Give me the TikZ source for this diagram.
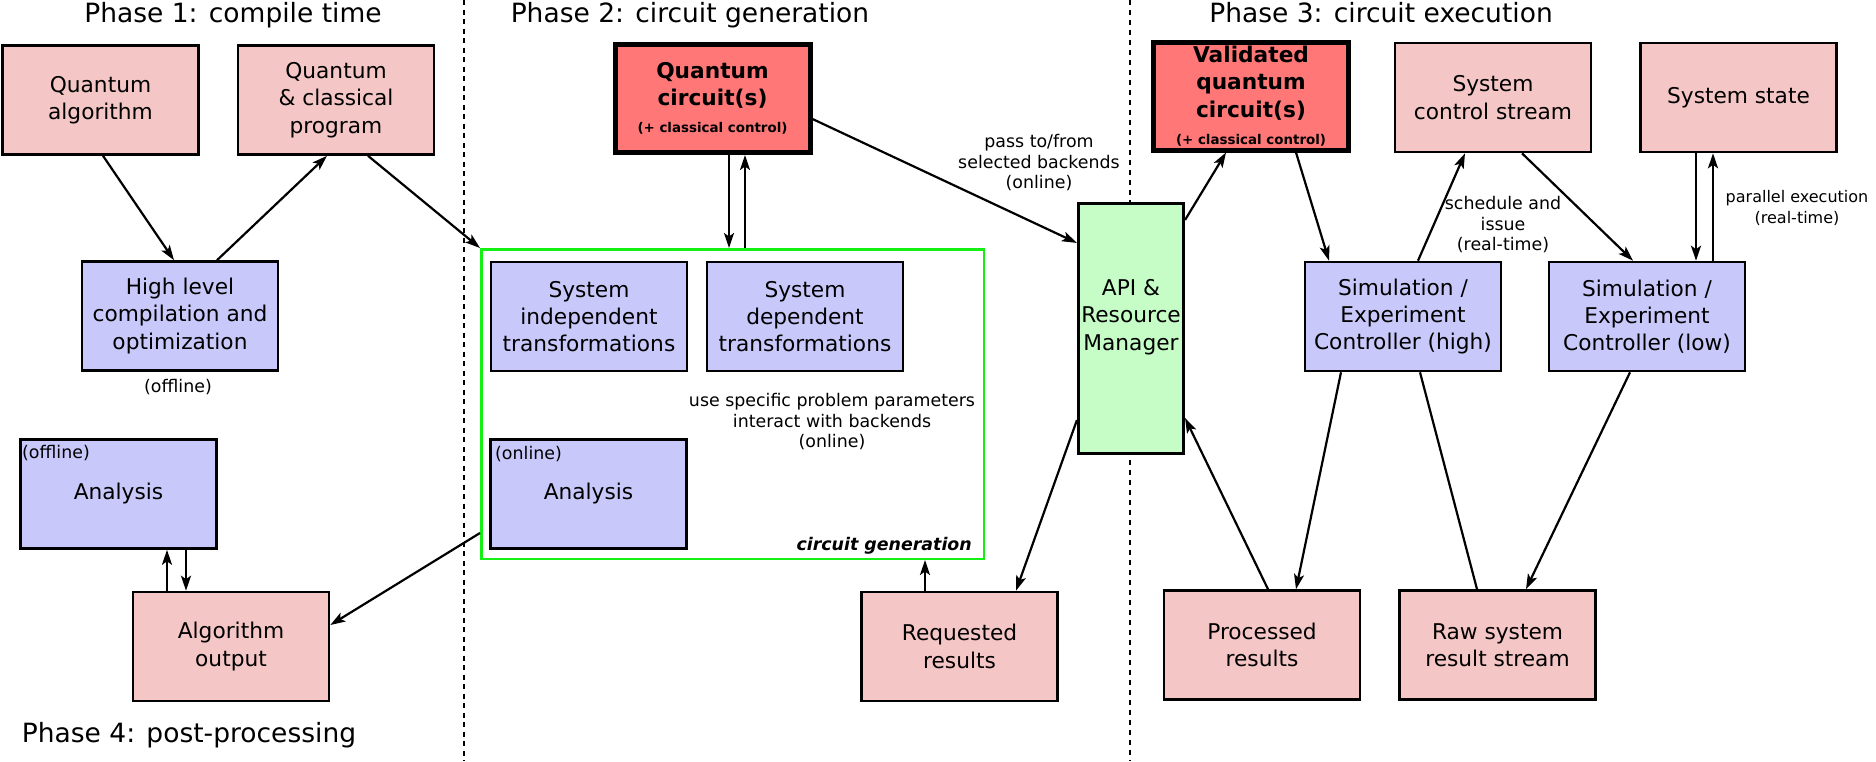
\documentclass[tikz,border=0pt]{standalone}
\usepackage{fontspec}
\setmainfont{DejaVu Sans}
\usetikzlibrary{arrows.meta}

\definecolor{pinkfill}{RGB}{245,198,198}
\definecolor{redfill}{RGB}{255,119,119}
\definecolor{bluefill}{RGB}{200,200,251}
\definecolor{greenfill}{RGB}{198,252,198}
\definecolor{frameg}{RGB}{20,240,20}

\newcommand\bodyfnt{\fontsize{21.7pt}{27.3pt}\selectfont}
\newcommand\phasefnt{\fontsize{26.5pt}{32pt}\selectfont}
\newcommand\smallfnt{\fontsize{17.4pt}{20.5pt}\selectfont}
\newcommand\boldfnt{\fontsize{21.7pt}{27.3pt}\selectfont\bfseries}
\newcommand\tinyfnt{\fontsize{13.4pt}{16pt}\selectfont\bfseries}

\tikzset{
  box/.style={draw=black, line width=2.6pt, minimum width=196pt, minimum height=109pt,
    align=center, inner sep=0pt, font=\bodyfnt},
  pinkbox/.style={box, fill=pinkfill},
  bluebox/.style={box, fill=bluefill},
  redbox/.style={box, fill=redfill, line width=5pt, minimum width=195pt, minimum height=108pt},
  apibox/.style={box, fill=greenfill, minimum width=105.5pt, minimum height=250.5pt},
  genframe/.style={draw=frameg, line width=2.5pt, minimum width=502.5pt, minimum height=309.5pt, inner sep=0pt},
  phase/.style={font=\phasefnt, inner sep=0pt},
  note/.style={font=\smallfnt, align=center, inner sep=0pt},
  arr/.style={line width=2.2pt, -{Stealth[length=15pt,width=10pt,inset=3.5pt]}},
  plainline/.style={line width=2.2pt},
  septhick/.style={line width=2.2pt, dash pattern=on 5pt off 4.5pt},
  septhin/.style={line width=1.3pt, dash pattern=on 5pt off 5pt},
}

\begin{document}
\begin{tikzpicture}[x=1pt, y=-1pt]
\useasboundingbox (0,0) rectangle (1876,761);

% phase separators
\coordinate (d1t) at (464,0);
\coordinate (d1b) at (464,761);
\coordinate (d2t) at (1130,0);
\coordinate (d2b) at (1130,761);
\draw[septhick] (d1t) -- (d1b);
\draw[septhin] (d2t) -- (d2b);

% phase titles
\node[phase, anchor=base] (ph1) at (233,22) {Phase 1: compile time};
\node[phase, anchor=base] (ph2) at (690,22) {Phase 2: circuit generation};
\node[phase, anchor=base] (ph3) at (1381,22) {Phase 3: circuit execution};
\node[phase, anchor=base] (ph4) at (189,742) {Phase 4: post-processing};

% phase 1
\node[pinkbox] (qa) at (100.5,100) {Quantum\\algorithm};
\node[pinkbox] (qcp) at (336,100) {Quantum\\\& classical\\program};
\node[bluebox] (hl) at (180,316) {High level\\compilation and\\optimization};
\node[note] (hloff) at (178,387) {(offline)};

% phase 4
\node[bluebox] (aoff) at (118.5,494) {Analysis};
\node[note, anchor=west] (aofftag) at (22,453) {(offline)};
\node[pinkbox] (ao) at (231,646.5) {Algorithm\\output};

% phase 2
\node[genframe] (gen) at (732.5,404) {};
\node[font=\smallfnt\bfseries\itshape, anchor=base east, inner sep=0pt] (genlbl) at (972,550) {circuit generation};
\node[redbox] (qc) at (712.5,98.5) {\boldfnt Quantum\\\boldfnt circuit(s)\\\tinyfnt (+ classical control)};
\node[bluebox] (sind) at (589,316.5) {System\\independent\\transformations};
\node[bluebox] (sdep) at (805,316.5) {System\\dependent\\transformations};
\node[bluebox] (aon) at (588.5,494) {Analysis};
\node[note, anchor=west] (aontag) at (495,454) {(online)};
\node[note] (usenote) at (832,422) {use specific problem parameters\\interact with backends\\(online)};
\node[pinkbox] (rq) at (959.5,646.5) {Requested\\results};
\node[note] (passnote) at (1039,163) {pass to/from\\selected backends\\(online)};

% API & resource manager
\node[apibox] (api) at (1131,328.5) {};
\node[font=\bodyfnt, align=center, inner sep=0pt] (apitext) at ([yshift=11.5pt]api.center) {API \&\\Resource\\Manager};

% phase 3
\node[redbox] (val) at (1251,96) {\boldfnt Validated\\\boldfnt quantum\\\boldfnt circuit(s)\\\tinyfnt (+ classical control)};
\node[pinkbox] (scs) at (1493,97.5) {System\\control stream};
\node[pinkbox] (ss) at (1738.5,97.5) {System state};
\node[bluebox] (ch) at (1403,316.5) {Simulation /\\Experiment\\Controller (high)};
\node[bluebox] (cl) at (1647,316.5) {Simulation /\\Experiment\\Controller (low)};
\node[pinkbox] (pr) at (1262,645) {Processed\\results};
\node[pinkbox] (raw) at (1497.5,645) {Raw system\\result stream};
\node[note] (schednote) at (1503,225) {schedule and\\issue\\(real-time)};
\node[note, font=\fontsize{16pt}{21pt}\selectfont] (parnote) at (1797,208) {parallel execution\\(real-time)};

% compile-time flow
\draw[arr] ([xshift=2.5pt]qa.south) -- ([xshift=-6pt]hl.north);
\draw[arr] ([xshift=37pt]hl.north) -- ([xshift=-9pt]qcp.south);
\draw[arr] ([xshift=32pt]qcp.south) -- (gen.north west);

% circuit generation loop
\coordinate (qdn) at ([xshift=16.5pt]qc.south);
\coordinate (qup) at ([xshift=32.5pt]qc.south);
\draw[arr] (qdn) -- (qdn |- gen.north);
\draw[arr] (qup |- gen.north) -- (qup);
\draw[arr] ([yshift=-20.5pt]qc.east) -- ([yshift=-41pt]api.north west);

% post-processing
\draw[arr] ([yshift=-129pt]gen.west) -- ([yshift=21.5pt]ao.east);
\coordinate (aup) at ([xshift=48.5pt]aoff.south);
\coordinate (adn) at ([xshift=67.5pt]aoff.south);
\draw[arr] (aup |- ao.north) -- (aup);
\draw[arr] (adn) -- (adn |- ao.north);
\coordinate (rqup) at ([xshift=-34.5pt]rq.north);
\draw[arr] (rqup) -- (rqup |- gen.south);

% execution flow
\draw[arr] ([yshift=-18pt]api.north east) -- ([xshift=-25pt]val.south);
\draw[arr] ([xshift=45pt]val.south) -- ([xshift=-74pt]ch.north);
\draw[arr] ([xshift=15pt]ch.north) -- ([xshift=-28pt]scs.south);
\draw[arr] ([xshift=29pt]scs.south) -- ([xshift=-14pt]cl.north);
\coordinate (sdn) at ([xshift=-42.5pt]ss.south);
\coordinate (sup) at ([xshift=-25.5pt]ss.south);
\draw[arr] (sdn) -- (sdn |- cl.north);
\draw[arr] (sup |- cl.north) -- (sup);
\draw[arr] ([xshift=-62pt]ch.south) -- ([xshift=34pt]pr.north);
\draw[plainline] ([xshift=17pt]ch.south) -- ([xshift=-20.5pt]raw.north);
\draw[arr] ([xshift=-17pt]cl.south) -- ([xshift=28.5pt]raw.north);
\draw[arr] ([xshift=6pt]pr.north) -- ([yshift=-89.5pt]api.east);
\draw[arr] ([yshift=-91.5pt]api.west) -- ([xshift=56.5pt]rq.north);
\end{tikzpicture}
\end{document}
